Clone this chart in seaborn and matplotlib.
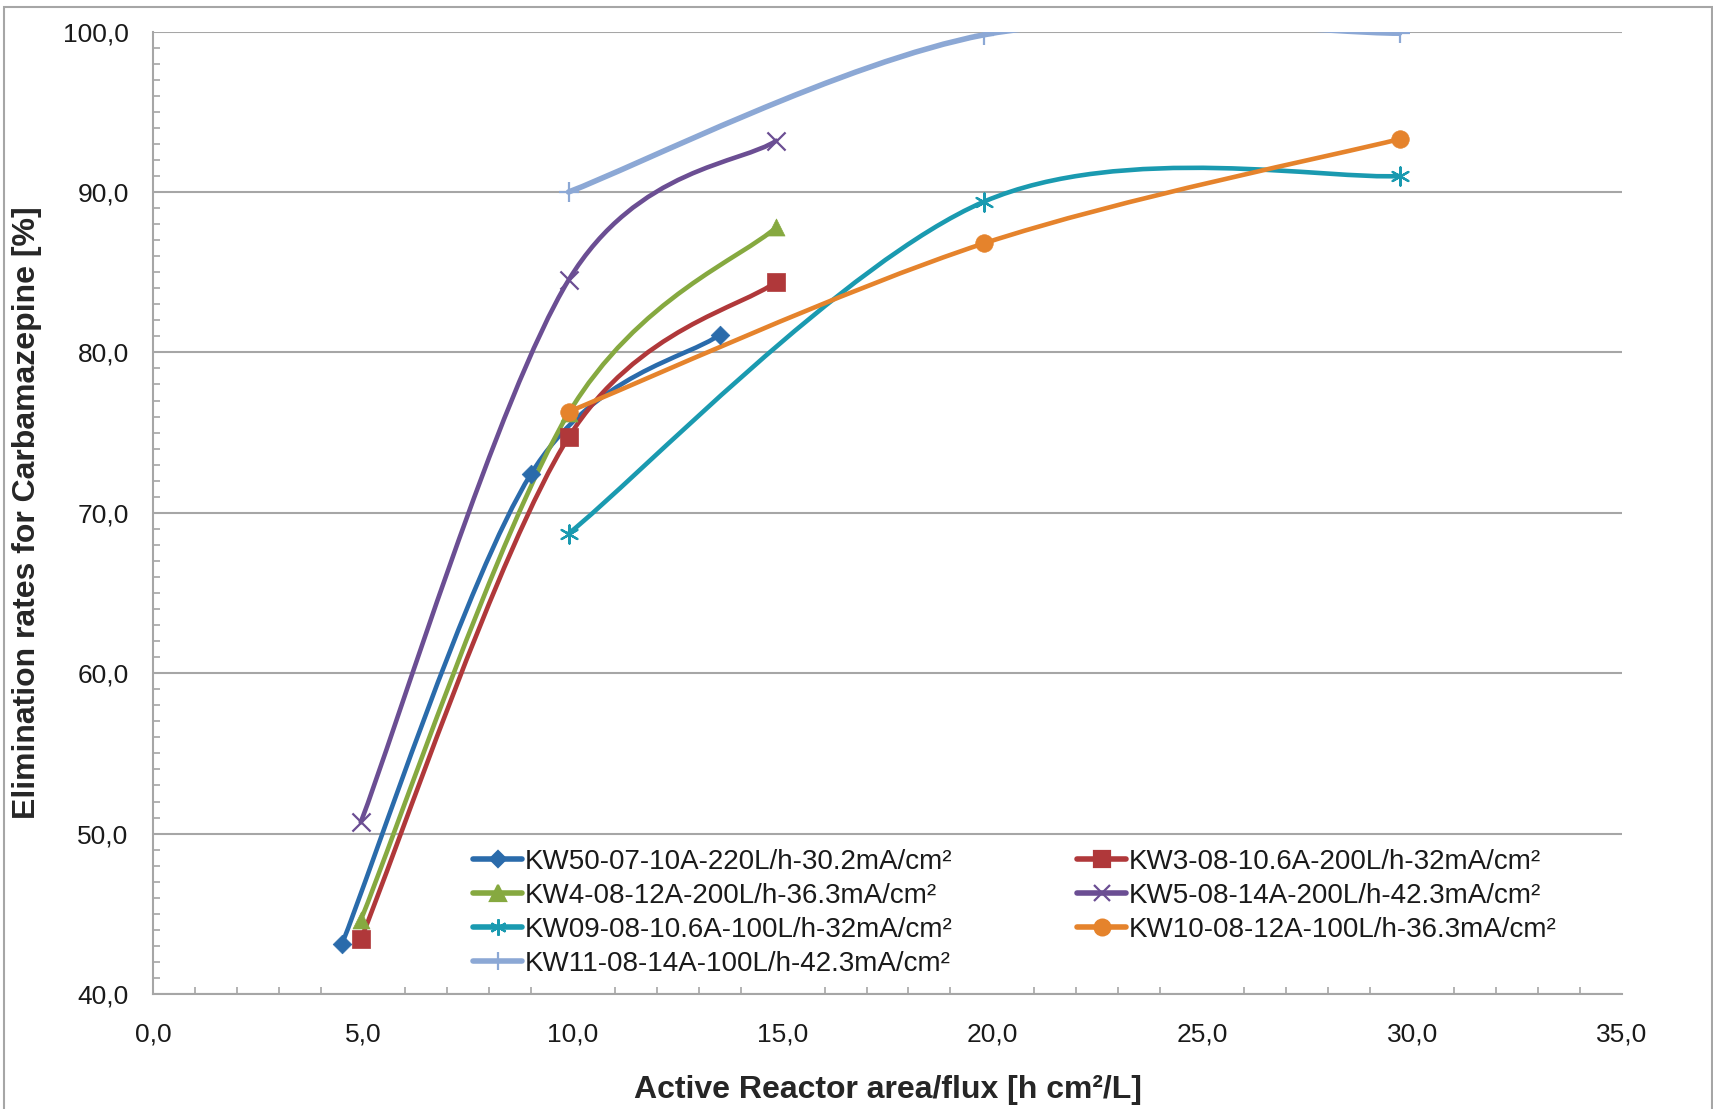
import seaborn as sns
import pandas as pd
import matplotlib.pyplot as plt
from matplotlib.path import Path
from matplotlib.patches import PathPatch, Rectangle
from matplotlib.lines import Line2D
from matplotlib.ticker import MultipleLocator, FuncFormatter

# Values
labels = ['KW50-07-10A-220L/h-30.2mA/cm²', 'KW3-08-10.6A-200L/h-32mA/cm²',
          'KW4-08-12A-200L/h-36.3mA/cm²', 'KW5-08-14A-200L/h-42.3mA/cm²',
          'KW09-08-10.6A-100L/h-32mA/cm²', 'KW10-08-12A-100L/h-36.3mA/cm²',
          'KW11-08-14A-100L/h-42.3mA/cm²']
x_kw50 = [4.5, 9.0, 13.5]
y_kw50 = [43.1, 72.4, 81.1]
x_kw3 = [4.95, 9.9, 14.85]
y_kw3 = [43.4, 74.7, 84.4]
x_kw4 = [4.95, 9.9, 14.85]
y_kw4 = [44.6, 76.2, 87.8]
x_kw5 = [4.95, 9.9, 14.85]
y_kw5 = [50.7, 84.5, 93.2]
x_kw09 = [9.9, 19.8, 29.7]
y_kw09 = [68.7, 89.4, 91.0]
x_kw10 = [9.9, 19.8, 29.7]
y_kw10 = [76.3, 86.8, 93.3]
x_kw11 = [9.9, 19.8, 29.7]
y_kw11 = [90.0, 99.8, 99.9]

xs = [x_kw50, x_kw3, x_kw4, x_kw5, x_kw09, x_kw10, x_kw11]
ys = [y_kw50, y_kw3, y_kw4, y_kw5, y_kw09, y_kw10, y_kw11]

colors = ['#2A6BAB', '#B0383A', '#86A940', '#6B4E93', '#1A9AB0', '#E5832C', '#8CA8D5']
markers = ['D', 's', '^', 'x', (6, 2, 0), 'o', '+']
sizes = [90, 150, 150, 170, 170, 160, 200]

sns.set_style("white")
plt.rcParams['font.family'] = ['Liberation Sans', 'DejaVu Sans']

fig = plt.figure(figsize=(17.13, 11.09), dpi=100)
ax = fig.add_axes([0.0893, 0.1037, 0.8576, 0.8678])


def smooth_path(px, py):
    # Excel-style smoothed line: cubic Bezier through the points
    pts = list(zip(px, py))
    n = len(pts)
    verts = [pts[0]]
    codes = [Path.MOVETO]
    for i in range(n - 1):
        p0 = pts[i - 1] if i > 0 else pts[i]
        p1 = pts[i]
        p2 = pts[i + 1]
        p3 = pts[i + 2] if i + 2 < n else pts[i + 1]
        c1 = (p1[0] + (p2[0] - p0[0]) / 6, p1[1] + (p2[1] - p0[1]) / 6)
        c2 = (p2[0] - (p3[0] - p1[0]) / 6, p2[1] - (p3[1] - p1[1]) / 6)
        verts += [c1, c2, p2]
        codes += [Path.CURVE4] * 3
    return Path(verts, codes)


handles = []
for i in range(len(labels)):
    lw = 4.0 if i == 6 else 3.3
    patch = PathPatch(smooth_path(xs[i], ys[i]), fill=False, edgecolor=colors[i],
                      lw=lw, capstyle='round', joinstyle='round', zorder=2 + i * 0.01)
    ax.add_patch(patch)
    df = pd.DataFrame({'x': xs[i], 'y': ys[i]})
    m = markers[i]
    filled = m in ('D', 's', '^', 'o')
    kw = dict(edgecolor=colors[i], linewidth=0.5) if filled else dict(linewidth=1.6)
    sns.scatterplot(data=df, x='x', y='y', marker=m, s=sizes[i], color=colors[i],
                    ax=ax, zorder=3 + i * 0.01, legend=False, **kw)
    handles.append(Line2D([0], [0], color=colors[i], lw=4, marker=m,
                          markersize=sizes[i] ** 0.5 * 0.9, markeredgewidth=1.6,
                          markeredgecolor=colors[i], markerfacecolor=colors[i]))

ax.set_xlim(0, 35)
ax.set_ylim(40, 100)
ax.xaxis.set_major_locator(MultipleLocator(5))
ax.xaxis.set_minor_locator(MultipleLocator(1))
ax.yaxis.set_major_locator(MultipleLocator(10))
ax.yaxis.set_minor_locator(MultipleLocator(1))
fmt = FuncFormatter(lambda v, p: f"{v:.1f}".replace('.', ','))
ax.xaxis.set_major_formatter(fmt)
ax.yaxis.set_major_formatter(fmt)

gray = '#A6A6A6'
ax.grid(axis='y', color=gray, lw=1.5)
ax.grid(axis='x', visible=False)
ax.set_axisbelow(True)
for s in ['top', 'right']:
    ax.spines[s].set_visible(False)
for s in ['left', 'bottom']:
    ax.spines[s].set_color(gray)
    ax.spines[s].set_linewidth(1.5)

ax.tick_params(which='major', direction='inout', length=9, width=1.5, color=gray,
               labelsize=19, labelcolor='#1a1a1a')
ax.tick_params(axis='x', which='major', pad=16)
ax.tick_params(axis='y', which='major', pad=13)
ax.tick_params(which='minor', direction='in', length=5, width=1.2, color=gray)
ax.tick_params(axis='x', which='minor', bottom=True)
ax.tick_params(axis='y', which='minor', left=True)

ax.set_xlabel('Active Reactor area/flux [h cm²/L]', fontsize=23, fontweight='bold')
ax.set_ylabel('Elimination rates for Carbamazepine [%]', fontsize=23, fontweight='bold')
ax.xaxis.set_label_coords(0.5, -0.0998)
ax.xaxis.label.set_va('center')
ax.yaxis.set_label_coords(-0.0858, 0.5)
ax.yaxis.label.set_va('center')

order = [0, 2, 4, 6, 1, 3, 5]
leg = ax.legend([handles[k] for k in order], [labels[k] for k in order], ncol=2,
                loc='upper left', bbox_to_anchor=(0.218, 0.151), frameon=False,
                fontsize=20, handlelength=1.75, handletextpad=0.1, labelspacing=0.29,
                columnspacing=4.5, borderpad=0, borderaxespad=0)
for t in leg.get_texts():
    t.set_color('#1a1a1a')

fig.add_artist(Rectangle((4 / 1713, -0.01), 1708 / 1713, 1 - 7 / 1109 + 0.01,
                         transform=fig.transFigure, fill=False, edgecolor=gray, lw=1.5))

fig.savefig('out.png', dpi=100, facecolor='white')
